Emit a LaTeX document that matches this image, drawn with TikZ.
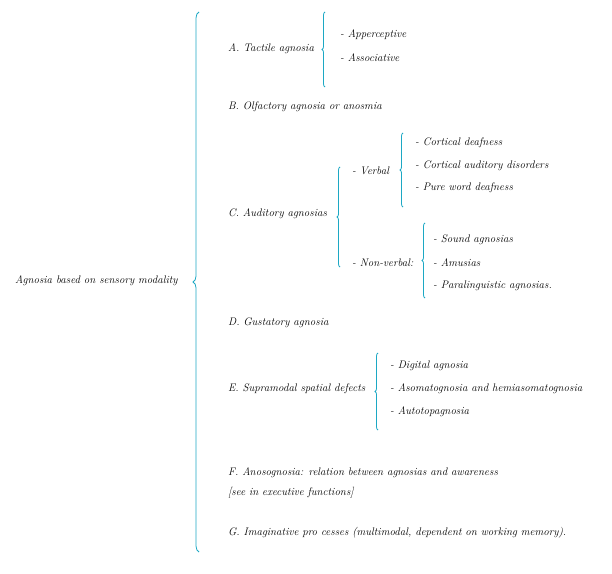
\documentclass[tikz,border=0pt]{standalone}
\usetikzlibrary{decorations.pathreplacing}
\definecolor{bracecol}{RGB}{28,168,196}
\tikzset{
    lbl/.style={anchor=west, inner sep=0pt, font=\itshape\fontsize{11}{13}\selectfont},
    curly/.style={draw=bracecol, line width=.8pt, decorate, decoration={brace, amplitude=#1}},
    curly/.default=3pt
}
\begin{document}
\begin{tikzpicture}[x=1bp, y=-1bp]
    \useasboundingbox (0,0) rectangle (612,574);
    
    \node[lbl] (root) at (15,281) {Agnosia based on sensory modality};
    \coordinate (mainTop) at (199,12);
    \coordinate (mainBot) at (199,552);
    \draw[curly=6pt] (mainBot)--(mainTop);
    
    % A
    \node[lbl] (A) at (228,49) {A. Tactile agnosia};
    \coordinate (aTop) at (325,12);
    \coordinate (aBot) at (325,87);
    \draw[curly] (aBot)--(aTop);
    \foreach \t [count=\i] in {Apperceptive, Associative}
    {
        \node[lbl] (a\i) at (340,35+23*\i-23) {- \t};
    }
    
    \node[lbl] (B) at (228,107) {B. Olfactory agnosia or anosmia};
    
    % C
    \node[lbl] (C) at (228,214) {C. Auditory agnosias};
    \coordinate (cTop) at (340,167);
    \coordinate (cBot) at (340,267);
    \draw[curly] (cBot)--(cTop);
    
    \node[lbl] (verb) at (352,171) {- Verbal};
    \coordinate (vTop) at (403,133);
    \coordinate (vBot) at (403,207);
    \draw[curly] (vBot)--(vTop);
    \foreach \t [count=\i] in {Cortical deafness, Cortical auditory disorders, Pure word deafness}
    {
        \node[lbl] (v\i) at (415,143+22.6*\i-22.6) {- \t};
    }
    
    \node[lbl] (nonverb) at (352,263) {- Non-verbal:};
    \coordinate (nTop) at (425,223);
    \coordinate (nBot) at (425,298);
    \draw[curly] (nBot)--(nTop);
    \foreach \t [count=\i] in {Sound agnosias, Amusias, Paralinguistic agnosias.}
    {
        \node[lbl] (n\i) at (433,240+23*\i-23) {- \t};
    }
    
    \node[lbl] (D) at (228,323) {D. Gustatory agnosia};
    
    % E
    \node[lbl] (E) at (228,389) {E. Supramodal spatial defects};
    \coordinate (eTop) at (378,353);
    \coordinate (eBot) at (378,430);
    \draw[curly] (eBot)--(eTop);
    \foreach \t [count=\i] in {Digital agnosia, Asomatognosia and hemiasomatognosia, Autotopagnosia}
    {
        \node[lbl] (e\i) at (390,366+23*\i-23) {- \t};
    }
    
    \node[lbl] (F) at (228,473) {F. Anosognosia: relation between agnosias and awareness};
    \node[lbl] (Fsee) at (228,493) {[see in executive functions]};
    \node[lbl] (G) at (228,533) {G. Imaginative pro cesses (multimodal, dependent on working memory).};
    
\end{tikzpicture}
\end{document}
